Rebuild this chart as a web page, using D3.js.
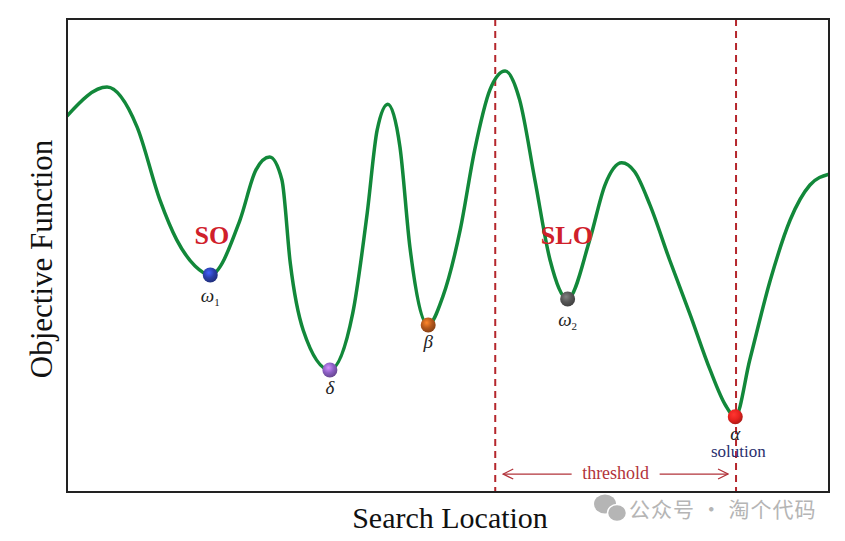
<!DOCTYPE html>
<html>
<head>
<meta charset="utf-8">
<script src="https://cdn.jsdelivr.net/npm/d3@7"></script>
<style>
  body { margin: 0; background: #fff; }
  svg { display: block; }
</style>
</head>
<body>
<div id="chart"></div>
<script>
// curve samples (search location, objective value)
var searchLoc = [0, 5.25, 9.19, 12.2, 14.4, 16.8, 18.8, 22.7, 24.8, 26.6, 28.2, 29.3, 31.0, 34.5,
  37.5, 39.4, 40.7, 42.1, 43.7, 45.0, 47.4, 49.3, 51.6, 53.5, 55.5, 57.5, 59.4, 61.4, 63.4, 65.7,
  68.6, 70.6, 72.8, 74.5, 76.5, 79.1, 81.8, 84.4, 86.4, 87.7, 89.6, 92.3, 94.9, 97.5, 100];
var objective = [79.5, 85.6, 77.2, 61.7, 53.3, 47.8, 45.9, 57.5, 68.1, 70.8, 66.0, 48.4, 34.2, 25.8,
  37.8, 59.0, 76.5, 82.0, 72.9, 51.8, 35.3, 41.2, 55.4, 72.3, 85.0, 89.0, 82.9, 66.0, 49.0, 40.8,
  53.3, 64.9, 69.6, 67.7, 60.7, 49.0, 37.4, 25.8, 18.4, 15.9, 27.9, 44.8, 57.5, 64.9, 67.2];

// the balls sitting in the valleys
var pointNames = ["w1", "delta", "beta", "w2", "alpha"];
var pointX = [18.8, 34.5, 47.4, 65.7, 87.7];
var pointY = [45.9, 25.8, 35.3, 40.8, 15.9];
var pointColors = ["#2b3fa8", "#8a5ec2", "#b5581c", "#555555", "#e8231f"];

var regionLabels = ["SO", "SLO"];
var regionX = [19.0, 65.6];
var regionY = [52.5, 52.5];

var thresholdX = [56.2, 87.8];

var svgWidth = 845;
var svgHeight = 541;
var margin = { top: 19, right: 16, bottom: 49, left: 67 };
var chartWidth = svgWidth - margin.left - margin.right;
var chartHeight = svgHeight - margin.top - margin.bottom;

var svg = d3.select("#chart")
  .append("svg")
  .attr("width", svgWidth)
  .attr("height", svgHeight);

var defs = svg.append("defs");
pointColors.forEach(function(c, i) {
  var g = defs.append("radialGradient")
    .attr("id", "ball" + i)
    .attr("cx", "40%").attr("cy", "35%").attr("r", "65%");
  g.append("stop").attr("offset", "0%").attr("stop-color", d3.color(c).brighter(1.2));
  g.append("stop").attr("offset", "55%").attr("stop-color", c);
  g.append("stop").attr("offset", "100%").attr("stop-color", d3.color(c).darker(0.8));
});
var arrowColor = "#b2333a";
["arrowEnd", "arrowStart"].forEach(function(id) {
  defs.append("marker")
    .attr("id", id)
    .attr("viewBox", "0 -6 12 12")
    .attr("refX", 11).attr("refY", 0)
    .attr("markerWidth", 12).attr("markerHeight", 12)
    .attr("markerUnits", "userSpaceOnUse")
    .attr("orient", "auto-start-reverse")
    .append("path")
    .attr("d", "M1,-5L11,0L1,5")
    .attr("fill", "none")
    .attr("stroke", arrowColor)
    .attr("stroke-width", 1.3);
});

var chartGroup = svg.append("g")
  .attr("transform", `translate(${margin.left}, ${margin.top})`);

var x = d3.scaleLinear().domain([0, 100]).range([0, chartWidth]);
var y = d3.scaleLinear().domain([0, 100]).range([chartHeight, 0]);

// clip so curve ends at frame
defs.append("clipPath").attr("id", "plotClip")
  .append("rect").attr("width", chartWidth).attr("height", chartHeight);

var curveData = searchLoc.map((d, i) => ({ x: d, y: objective[i] }));
var line = d3.line()
  .x(d => x(d.x))
  .y(d => y(d.y))
  .curve(d3.curveMonotoneX);

// threshold dashed lines
chartGroup.selectAll(".thr")
  .data(thresholdX)
  .enter()
  .append("line")
  .attr("x1", d => x(d)).attr("x2", d => x(d))
  .attr("y1", 0).attr("y2", chartHeight)
  .attr("stroke", "#b5262c")
  .attr("stroke-width", 2)
  .attr("stroke-dasharray", "7,5");

chartGroup.append("path")
  .datum(curveData)
  .attr("clip-path", "url(#plotClip)")
  .attr("d", line)
  .attr("fill", "none")
  .attr("stroke", "#12883a")
  .attr("stroke-width", 3.5);

// threshold arrow
var arrowY = y(3.8);
chartGroup.append("line")
  .attr("x1", x(thresholdX[0]) + 8).attr("x2", x(thresholdX[1]) - 8)
  .attr("y1", arrowY).attr("y2", arrowY)
  .attr("stroke", arrowColor)
  .attr("stroke-width", 1.3)
  .attr("marker-start", "url(#arrowStart)")
  .attr("marker-end", "url(#arrowEnd)");
var midX = (x(thresholdX[0]) + x(thresholdX[1])) / 2;
chartGroup.append("rect")
  .attr("x", midX - 44).attr("y", arrowY - 11)
  .attr("width", 88).attr("height", 22)
  .attr("fill", "#fff");
chartGroup.append("text")
  .attr("x", midX).attr("y", arrowY + 5)
  .attr("text-anchor", "middle")
  .attr("font-family", "Liberation Serif, serif")
  .attr("font-size", "18px")
  .attr("fill", arrowColor)
  .text("threshold");

// balls
chartGroup.selectAll(".ball")
  .data(pointNames)
  .enter()
  .append("circle")
  .attr("cx", (d, i) => x(pointX[i]))
  .attr("cy", (d, i) => y(pointY[i]))
  .attr("r", 7.5)
  .attr("fill", (d, i) => `url(#ball${i})`);

// greek labels under the balls
var serif = "Liberation Serif, DejaVu Serif, serif";
function greek(i, sym, sub, dy) {
  var t = chartGroup.append("text")
    .attr("x", x(pointX[i]))
    .attr("y", y(pointY[i]) + dy)
    .attr("text-anchor", "middle")
    .attr("font-family", serif)
    .attr("font-style", "italic")
    .attr("font-size", "19px")
    .attr("fill", "#222");
  t.append("tspan").text(sym);
  if (sub) {
    t.append("tspan").attr("dy", 4).attr("font-size", "11px").attr("font-style", "normal").text(sub);
  }
}
greek(0, "ω", "1", 27);
greek(1, "δ", null, 24);
greek(2, "β", null, 23);
greek(3, "ω", "2", 27);
greek(4, "α", null, 23);

chartGroup.append("text")
  .attr("x", x(pointX[4]) + 3)
  .attr("y", y(pointY[4]) + 40)
  .attr("text-anchor", "middle")
  .attr("font-family", serif)
  .attr("font-size", "17px")
  .attr("fill", "#2a2f6e")
  .text("solution");

// SO / SLO
chartGroup.selectAll(".region")
  .data(regionLabels)
  .enter()
  .append("text")
  .attr("x", (d, i) => x(regionX[i]))
  .attr("y", (d, i) => y(regionY[i]))
  .attr("text-anchor", "middle")
  .attr("font-family", serif)
  .attr("font-weight", "bold")
  .attr("font-size", "26px")
  .attr("fill", "#d0202a")
  .text(d => d);

// frame
chartGroup.append("rect")
  .attr("width", chartWidth)
  .attr("height", chartHeight)
  .attr("fill", "none")
  .attr("stroke", "#222")
  .attr("stroke-width", 2);

// axis titles
svg.append("text")
  .attr("x", margin.left + chartWidth / 2 + 2)
  .attr("y", 528)
  .attr("text-anchor", "middle")
  .attr("font-family", serif)
  .attr("font-size", "30px")
  .attr("fill", "#111")
  .text("Search Location");

svg.append("text")
  .attr("transform", "rotate(-90)")
  .attr("x", -259)
  .attr("y", 52)
  .attr("text-anchor", "middle")
  .attr("font-family", serif)
  .attr("font-size", "31px")
  .attr("fill", "#111")
  .text("Objective Function");

// watermark
var wm = svg.append("g").attr("fill", "#b5b5b5");
wm.append("ellipse").attr("cx", 605).attr("cy", 504).attr("rx", 11).attr("ry", 9.5);
wm.append("ellipse").attr("cx", 617).attr("cy", 513).attr("rx", 9.5).attr("ry", 8.5)
  .attr("stroke", "#fff").attr("stroke-width", 1.5);
wm.append("text")
  .attr("x", 629).attr("y", 517)
  .attr("font-family", "Noto Sans CJK SC, sans-serif")
  .attr("font-size", "21px")
  .attr("letter-spacing", "1px")
  .text("公众号 · 淘个代码");
</script>
</body>
</html>
